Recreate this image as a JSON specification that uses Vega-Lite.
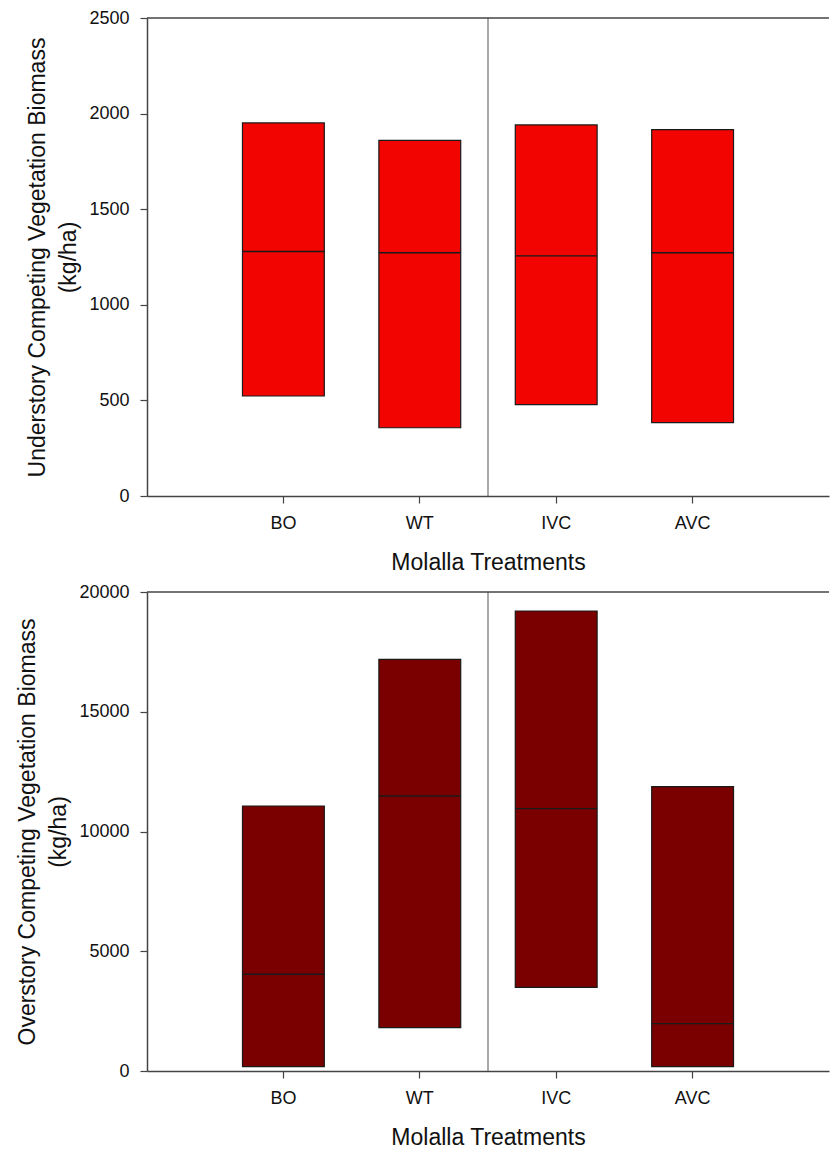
{
  "$schema": "https://vega.github.io/schema/vega-lite/v6.json",
  "padding": {"left": 16, "top": 9, "right": 0, "bottom": 0},
  "background": "white",
  "config": {
    "font": "Liberation Sans",
    "view": {"stroke": null},
    "axis": {
      "grid": false,
      "domainColor": "#444",
      "domainWidth": 1.5,
      "tickColor": "#444",
      "tickWidth": 1.2,
      "tickSize": 7,
      "labelFont": "Liberation Sans",
      "labelFontSize": 18,
      "labelColor": "#111",
      "titleFont": "Liberation Sans",
      "titleFontSize": 23,
      "titleFontWeight": "normal",
      "titleColor": "#111"
    },
    "axisX": {"labelAngle": 0, "labelPadding": 11, "titlePadding": 19},
    "axisY": {"labelPadding": 11, "titlePadding": 8, "titleLineHeight": 31}
  },
  "vconcat": [
    {
      "width": 682,
      "height": 478,
      "data": {"values": [
        {"treatment": "BO", "low": 523, "median": 1279, "high": 1951},
        {"treatment": "WT", "low": 357, "median": 1272, "high": 1860},
        {"treatment": "IVC", "low": 478, "median": 1256, "high": 1941},
        {"treatment": "AVC", "low": 384, "median": 1272, "high": 1916}
      ]},
      "layer": [
        {
          "mark": {"type": "bar", "fill": "#f20500", "stroke": "#1a1a1a", "strokeWidth": 1.2, "width": {"band": 0.6}},
          "encoding": {
            "x": {"field": "treatment", "type": "nominal",
                  "scale": {"domain": ["BO", "WT", "IVC", "AVC"], "paddingInner": 0, "paddingOuter": 0.5},
                  "axis": {"title": "Molalla Treatments"}},
            "y": {"field": "low", "type": "quantitative",
                  "scale": {"domain": [0, 2500], "nice": false},
                  "axis": {"values": [0, 500, 1000, 1500, 2000, 2500], "format": "d",
                           "title": ["Understory Competing Vegetation Biomass", "(kg/ha)"]}},
            "y2": {"field": "high"}
          }
        },
        {
          "mark": {"type": "bar", "fill": null, "stroke": "#1a1a1a", "strokeWidth": 1.4, "width": {"band": 0.6}},
          "encoding": {
            "x": {"field": "treatment", "type": "nominal"},
            "y": {"field": "median", "type": "quantitative"},
            "y2": {"field": "median"}
          }
        },
        {
          "data": {"values": [{"sep": "IVC"}]},
          "mark": {"type": "rule", "color": "#555", "strokeWidth": 1},
          "encoding": {
            "x": {"field": "sep", "type": "nominal", "bandPosition": 0}
          }
        },
        {
          "data": {"values": [{"top": 2500}]},
          "mark": {"type": "rule", "color": "#444", "strokeWidth": 1.5},
          "encoding": {
            "y": {"field": "top", "type": "quantitative"}
          }
        }
      ]
    },
    {
      "width": 682,
      "height": 479,
      "data": {"values": [
        {"treatment": "BO", "low": 184, "median": 4038, "high": 11065},
        {"treatment": "WT", "low": 1812, "median": 11482, "high": 17190},
        {"treatment": "IVC", "low": 3495, "median": 10956, "high": 19207},
        {"treatment": "AVC", "low": 184, "median": 1979, "high": 11875}
      ]},
      "layer": [
        {
          "mark": {"type": "bar", "fill": "#7a0000", "stroke": "#1a1a1a", "strokeWidth": 1.2, "width": {"band": 0.6}},
          "encoding": {
            "x": {"field": "treatment", "type": "nominal",
                  "scale": {"domain": ["BO", "WT", "IVC", "AVC"], "paddingInner": 0, "paddingOuter": 0.5},
                  "axis": {"title": "Molalla Treatments"}},
            "y": {"field": "low", "type": "quantitative",
                  "scale": {"domain": [0, 20000], "nice": false},
                  "axis": {"values": [0, 5000, 10000, 15000, 20000], "format": "d",
                           "title": ["Overstory Competing Vegetation Biomass", "(kg/ha)"]}},
            "y2": {"field": "high"}
          }
        },
        {
          "mark": {"type": "bar", "fill": null, "stroke": "#1a1a1a", "strokeWidth": 1.4, "width": {"band": 0.6}},
          "encoding": {
            "x": {"field": "treatment", "type": "nominal"},
            "y": {"field": "median", "type": "quantitative"},
            "y2": {"field": "median"}
          }
        },
        {
          "data": {"values": [{"sep": "IVC"}]},
          "mark": {"type": "rule", "color": "#555", "strokeWidth": 1},
          "encoding": {
            "x": {"field": "sep", "type": "nominal", "bandPosition": 0}
          }
        },
        {
          "data": {"values": [{"top": 20000}]},
          "mark": {"type": "rule", "color": "#444", "strokeWidth": 1.5},
          "encoding": {
            "y": {"field": "top", "type": "quantitative"}
          }
        }
      ]
    }
  ],
  "spacing": 96,
  "bounds": "flush"
}
